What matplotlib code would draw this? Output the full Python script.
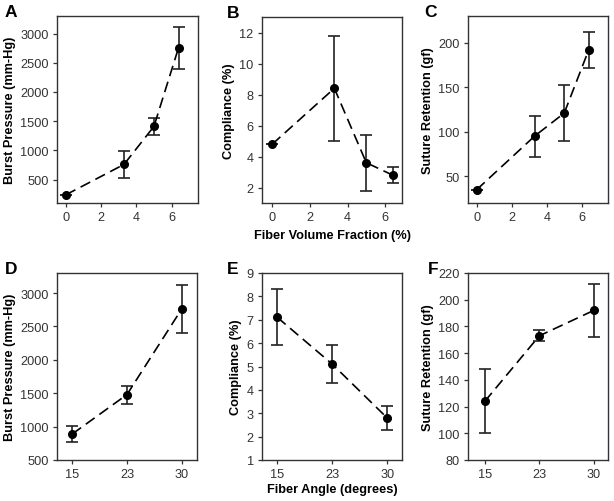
import numpy as np
import matplotlib.pyplot as plt

plt.rcParams['font.family'] = ['Liberation Sans', 'DejaVu Sans']

# top row: fiber volume fraction (%)
vf = [0, 3.3, 5, 6.4]
burst_vf = [240, 760, 1410, 2760]
burst_vf_err = [0, 230, 140, 360]
comp_vf = [4.8, 8.4, 3.6, 2.8]
comp_vf_err = [0, 3.4, 1.8, 0.5]
sut_vf = [35, 95, 121, 192]
sut_vf_err = [0, 23, 31, 20]

# bottom row: fiber angle (degrees)
angle_labels = ['15', '23', '30']
burst_ang = [890, 1480, 2760]
burst_ang_err = [125, 135, 360]
comp_ang = [7.1, 5.1, 2.8]
comp_ang_err = [1.2, 0.8, 0.5]
sut_ang = [124, 173, 192]
sut_ang_err = [24, 4, 20]

W, H = 614, 502
fig = plt.figure(figsize=(W / 100, H / 100), dpi=100)


def box(x0, y0, x1, y1):
    # pixel box -> figure fraction
    return fig.add_axes([x0 / W, 1 - y1 / H, (x1 - x0) / W, (y1 - y0) / H])


def panel(ax, x, y, err, letter, lx):
    ax.errorbar(x, y, yerr=err, fmt='o', color='black', ms=5.5,
                ls=(0, (6.5, 3.5)), lw=1.2, elinewidth=1.2, capsize=4.5,
                capthick=1.2, ecolor='#222222')
    for s in ax.spines.values():
        s.set_color('#333333')
        s.set_linewidth(1.0)
    ax.tick_params(direction='out', length=3, width=0.9, color='#333333',
                   labelsize=9.2, labelcolor='#333333', pad=3)
    ax.text(lx, 1.025, letter, transform=ax.transAxes, fontsize=12.5,
            fontweight='bold', va='center', ha='left')


ylab = dict(fontsize=9.2, fontweight='bold', labelpad=3)

# A
ax = box(57, 17, 198, 204)
panel(ax, vf, burst_vf, burst_vf_err, 'A', -0.37)
ax.set_xlim(-0.5, 7.5)
ax.set_ylim(100, 3300)
ax.set_xticks([0, 2, 4, 6])
ax.set_yticks([500, 1000, 1500, 2000, 2500, 3000])
ax.set_ylabel('Burst Pressure (mm-Hg)', **ylab)

# B
ax = box(262, 18, 402, 204)
panel(ax, vf, comp_vf, comp_vf_err, 'B', -0.25)
ax.set_xlim(-0.55, 6.9)
ax.set_ylim(1, 13)
ax.set_xticks([0, 2, 4, 6])
ax.set_yticks([2, 4, 6, 8, 10, 12])
ax.set_ylabel('Compliance (%)', **ylab)
ax.set_xlabel('Fiber Volume Fraction (%)', fontsize=9.2, fontweight='bold',
              labelpad=4)

# C
ax = box(468, 17, 608, 204)
panel(ax, vf, sut_vf, sut_vf_err, 'C', -0.31)
ax.set_xlim(-0.5, 7.5)
ax.set_ylim(20, 230)
ax.set_xticks([0, 2, 4, 6])
ax.set_yticks([50, 100, 150, 200])
ax.set_ylabel('Suture Retention (gf)', **ylab)

pos = np.arange(len(angle_labels))

# D
ax = box(57, 274, 197, 461)
panel(ax, pos, burst_ang, burst_ang_err, 'D', -0.37)
ax.set_xlim(-0.28, 2.28)
ax.set_ylim(500, 3300)
ax.set_xticks(pos, angle_labels)
ax.set_yticks([500, 1000, 1500, 2000, 2500, 3000])
ax.set_ylabel('Burst Pressure (mm-Hg)', **ylab)

# E
ax = box(262, 274, 402, 461)
panel(ax, pos, comp_ang, comp_ang_err, 'E', -0.25)
ax.set_xlim(-0.28, 2.27)
ax.set_ylim(1, 9)
ax.set_xticks(pos, angle_labels)
ax.set_yticks(range(1, 10))
ax.set_ylabel('Compliance (%)', **ylab)
ax.set_xlabel('Fiber Angle (degrees)', fontsize=9.2, fontweight='bold',
              labelpad=2)

# F
ax = box(468, 274, 608, 461)
panel(ax, pos, sut_ang, sut_ang_err, 'F', -0.29)
ax.set_xlim(-0.31, 2.26)
ax.set_ylim(80, 220)
ax.set_xticks(pos, angle_labels)
ax.set_yticks(range(80, 221, 20))
ax.set_ylabel('Suture Retention (gf)', **ylab)

fig.savefig('out.png', dpi=100)
